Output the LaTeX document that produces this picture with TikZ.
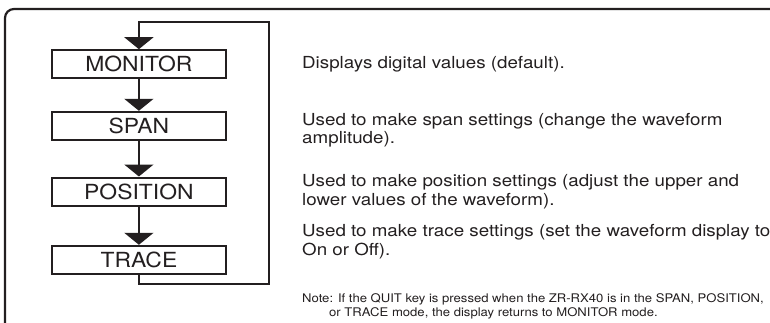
\documentclass[tikz,border=0pt]{standalone}
\usepackage{fontspec}
\setmainfont[FakeStretch=1.1]{TeX Gyre Heros}
\newfontfamily\descfont[FakeStretch=1.13]{TeX Gyre Heros}
\usetikzlibrary{arrows.meta}
\definecolor{ink}{HTML}{231F20}
\begin{document}
\begin{tikzpicture}[x=1pt,y=-1pt,
  every node/.style={text=ink},
  modebox/.style={draw=ink,line width=2pt,minimum width=174pt,minimum height=28pt,inner sep=0pt,
    font=\fontsize{20.8}{24}\selectfont},
  flow/.style={draw=ink,line width=2pt,-{Triangle[width=29pt,length=12pt]}},
  desc/.style={anchor=base west,inner sep=0pt,font=\descfont\fontsize{16.6}{18.3}\selectfont},
  note/.style={anchor=base west,inner sep=0pt,font=\fontsize{11.9}{14}\selectfont},
  frame/.style={draw=ink,line width=2.2pt,rounded corners=9pt}]
\useasboundingbox (0,0) rectangle (770,322);
\clip (0,0) rectangle (770,322);
\draw[frame] (5,340) -- (5,9) -- (790,9);
\node[modebox] (mon) at (138.9,64.2) {MONITOR};
\node[modebox] (span) at (138.9,125.8) {SPAN};
\node[modebox] (pos) at (138.9,191.5) {POSITION};
\node[modebox] (trace) at (138.9,259.8) {TRACE};
\coordinate (lb) at (138.9,284);
\coordinate (rb) at (269.3,284);
\coordinate (rt) at (269.3,22);
\coordinate (lt) at (138.9,22);
\draw[flow] (mon) -- (span);
\draw[flow] (span) -- (pos);
\draw[flow] (pos) -- (trace);
\draw[flow] (trace.south) -- (lb) -- (rb) -- (rt) -- (lt) -- (mon.north);
\node[desc] (d1) at (302,68.7) {Displays digital values (default).};
\node[desc] (d2a) at (302,125) {Used to make span settings (change the waveform};
\node[desc] (d2b) at (302,143.3) {amplitude).};
\node[desc] (d3a) at (302,186.7) {Used to make position settings (adjust the upper and};
\node[desc] (d3b) at (302,205) {lower values of the waveform).};
\node[desc] (d4a) at (302,236.7) {Used to make trace settings (set the waveform display to};
\node[desc] (d4b) at (302,255) {On or Off).};
\node[note] (n1) at (302,302) {Note: If the QUIT key is pressed when the ZR-RX40 is in the SPAN, POSITION,};
\node[note] (n2) at (329,316.5) {or TRACE mode, the display returns to MONITOR mode.};
\end{tikzpicture}
\end{document}
